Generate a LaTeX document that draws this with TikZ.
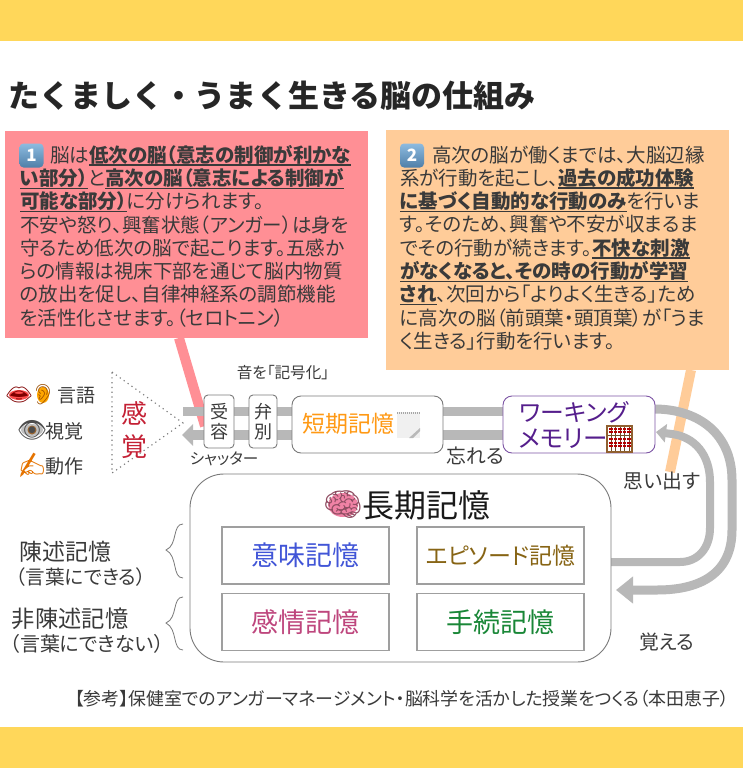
\documentclass[tikz,border=0pt]{standalone}
\usepackage{fontspec}
\usetikzlibrary{arrows.meta,shapes.geometric}
\setmainfont{Noto Sans CJK JP}[RawFeature=+palt]
\newfontfamily\fullfont{Noto Sans CJK JP}
\newfontfamily\emojifont{Noto Emoji}
\newcommand\fsz[1]{\fontsize{#1}{#1}\selectfont}
\newsavebox\ulbox
\newcommand\uln[1]{\sbox\ulbox{\bfseries #1}\rlap{\textcolor{ink}{\rule[-3.6pt]{\wd\ulbox}{1.5pt}}}\usebox\ulbox}
\definecolor{ink}{HTML}{3A3A3A}
\definecolor{barY}{HTML}{FFD75A}
\definecolor{pinkB}{HTML}{FF8F95}
\definecolor{orangeB}{HTML}{FFCC99}
\definecolor{band}{HTML}{B8B8B8}
\definecolor{edgeG}{HTML}{7A7A7A}
\definecolor{keyT}{HTML}{8DBBE0}
\definecolor{keyB}{HTML}{4F7FA8}
\definecolor{brainP}{RGB}{240,130,165}
\tikzset{
 x=1pt,y=-1pt,
 txt/.style={inner sep=0,outer sep=0,text=ink,font=\fsz{17}},
 para/.style={txt,anchor=north west,align=left,font=\fontsize{19.5}{23.3}\selectfont},
 memo/.style={draw=edgeG,line width=.9pt,rounded corners=9pt,fill=white,inner sep=0},
 tall/.style={memo,rounded corners=4pt,align=center,font=\fontsize{18}{20.5}\selectfont,text=ink},
 kind/.style={draw=gray!75,line width=1.4pt,fill=white,inner sep=0,minimum width=167pt,minimum height=57pt},
 bandline/.style={draw=band,line width=9.5pt},
 head/.style={-{Triangle[length=17pt,width=26pt]}},
 lefthead/.style={-{Triangle[length=11pt,width=21pt]}},
 smallhead/.style={-{Triangle[length=10pt,width=18pt]}},
 tie/.style={line width=10pt},
 keycap/.style={top color=keyT,bottom color=keyB,rounded corners=4pt,inner sep=0,minimum size=24pt,text=white,font=\bfseries\fsz{17}},
 brace/.style={draw=edgeG,line width=.8pt},
}
\begin{document}
\begin{tikzpicture}
\useasboundingbox (0,0) rectangle (743,768);
\fill[white] (0,0) rectangle (743,768);
\fill[barY] (0,0) rectangle (743,41);
\fill[barY] (0,727) rectangle (743,768);
\node[txt,anchor=west,font=\fullfont\bfseries\fsz{31},text=black!85] (title) at (9,96) {たくましく・うまく生きる脳の仕組み};

% callout boxes
\node[fill=pinkB,inner sep=0,minimum width=363pt,minimum height=207pt,anchor=north west] (box1) at (5,131) {};
\node[fill=orangeB,inner sep=0,minimum width=343pt,minimum height=240pt,anchor=north west] (box2) at (386,130) {};
\coordinate (p1) at (179,338); \coordinate (p2) at (205,426);
\coordinate (o1) at (691,370); \coordinate (o2) at (670,472);
\draw[pinkB,tie] (p1) -- (p2);
\draw[orangeB,tie] (o1) -- (o2);

\node[keycap] (k1) at (31.5,155.5) {1};
\node[keycap] (k2) at (412,155.5) {2};
\node[para] (t1) at (20,145) {\hspace*{30pt}脳は\uln{低次の脳（意志の制御が利かな}\\
\uln{い部分）}と\uln{高次の脳（意志による制御が}\\
\uln{可能な部分）}に分けられます。\\
不安や怒り、興奮状態（アンガー）は身を\\
守るため低次の脳で起こります。五感か\\
らの情報は視床下部を通じて脳内物質\\
の放出を促し、自律神経系の調節機能\\
を活性化させます。（セロトニン）};
\node[para] (t2) at (400,145.5) {\hspace*{32pt}高次の脳が働くまでは、大脳辺縁\\
系が行動を起こし、\uln{過去の成功体験}\\
\uln{に基づく自動的な行動のみ}を行いま\\
す。そのため、興奮や不安が収まるま\\
でその行動が続きます。\uln{不快な刺激}\\
\uln{がなくなると、その時の行動が学習}\\
\uln{され}、次回から「よりよく生きる」ため\\
に高次の脳（前頭葉・頭頂葉）が「うま\\
く生きる」行動を行います。};

% senses
\fill[red!60!pink] (19,395) ellipse [x radius=10, y radius=5];
\node[txt,font=\emojifont\fsz{22},text=red!50!black] (lips) at (19,395) {👄};
\fill[orange!70!yellow] (43,395) ellipse [x radius=6, y radius=8];
\node[txt,font=\emojifont\fsz{20},text=orange!60!black] (ear) at (43,395) {👂};
\node[txt,anchor=west,font=\fsz{19}] (s1) at (57,396) {言語};
\fill[gray!50] (32,430) ellipse [x radius=11, y radius=6];
\fill[brown!80!black] (32,430) circle [radius=4.5];
\node[txt,font=\emojifont\fsz{24},text=black!70] (eye) at (32,430) {👁};
\node[txt,anchor=west,font=\fsz{19}] (s2) at (45,431) {視覚};
\node[txt,font=\emojifont\fsz{24},text=orange!90!black] (hand) at (32,465) {✍};
\node[txt,anchor=west,font=\fsz{19}] (s3) at (45,466) {動作};
\coordinate (tr1) at (112,372); \coordinate (tr2) at (183,423); \coordinate (tr3) at (112,473);
\draw[edgeG,line width=1.1pt,dash pattern=on 1.2pt off 3.6pt] (tr1) -- (tr2) -- (tr3) -- cycle;
\node[txt,font=\fontsize{26}{33}\selectfont,text={rgb,255:red,196;green,32;blue,52},align=center] (kankaku) at (134,430) {感\\覚};

% bands
\coordinate (a1) at (183,411.5); \coordinate (a2) at (503,411.5);
\coordinate (b1) at (503,435); \coordinate (b2) at (182,435);
\draw[bandline] (a1) -- (a2);
\draw[bandline,lefthead] (b1) -- (b2);
\coordinate (wmOut) at (654,409);
\coordinate (ltmOut) at (611,562);
\coordinate (ltmIn) at (616,590);
\coordinate (wmIn) at (656,432);
\draw[bandline,line width=9pt,head] (wmOut) .. controls (700,409) and (732,435) .. (732,480) -- (732,530) .. controls (732,570) and (705,590) .. (657,590) -- (ltmIn);
\draw[bandline,line width=8pt,smallhead] (ltmOut) -- (680,562) .. controls (698,562) and (710,548) .. (710,528) -- (710,482) .. controls (710,455) and (695,437) .. (672,434) -- (wmIn);

% process nodes
\node[tall,minimum width=30pt,minimum height=53pt] (juyo) at (219,421.5) {受\\容};
\node[tall,minimum width=28pt,minimum height=53pt] (benbetsu) at (263,421.5) {弁\\別};
\node[memo,minimum width=151pt,minimum height=57pt] (short) at (367.5,424.5) {};
\node[txt,anchor=west,font=\fsz{23},text={rgb,255:red,255;green,153;blue,20}] (shortT) at (302,424) {短期記憶};
% notepad
\fill[gray!12] (397,412) rectangle (420,438);
\draw[gray!70,line width=2pt,dash pattern=on 1pt off 1pt] (397,413) -- (420,413);
\fill[gray!55] (420,428) -- (420,431) -- (413,438) -- (409,438) -- cycle;
\node[memo,draw={rgb,255:red,125;green,85;blue,165},minimum width=152pt,minimum height=57pt] (wm) at (579,424.5) {};
\node[txt,font=\fsz{23.8},text={rgb,255:red,85;green,30;blue,140}] (wm1) at (574,412) {ワーキング};
\node[txt,anchor=west,font=\fsz{24.5},text={rgb,255:red,85;green,30;blue,140}] (wm2) at (519,439) {メモリー};
% abacus
\fill[brown!75!black] (606,425) rectangle (633,453);
\fill[white] (608,427) rectangle (631,451);
\foreach \cx in {611,615.5,620,624.5,629}{
  \draw[brown!60!black,line width=.4pt] (\cx,427) -- (\cx,451);
  \foreach \cy in {428,431,438,441.5,445}{
    \fill[red!70!black] (\cx-1.8,\cy) rectangle (\cx+1.8,\cy+2.4);
  }
}
\fill[brown!60!black] (608,434.5) rectangle (631,436);
\node[txt,font=\fsz{15.6}] (kigo) at (283,373) {音を「記号化」};
\node[txt,font=\fsz{15.6}] (shutter) at (224,459) {シャッター};
\node[txt,font=\fsz{19.8}] (wasureru) at (475,456) {忘れる};
\node[txt,font=\fsz{19.8}] (omoidasu) at (662,481) {思い出す};
\node[txt,font=\fsz{19.8}] (oboeru) at (667,642) {覚える};

% long-term memory
\node[memo,draw=edgeG,rounded corners=34pt,minimum width=421pt,minimum height=188pt] (ltm) at (400.5,568) {};
\fill[brainP] (343,505) ellipse [x radius=15, y radius=12];
\node[txt,font=\emojifont\fsz{32},text=brainP!60!black] (brain) at (343,505) {🧠};
\node[txt,anchor=west,font=\fsz{32},text=black!90] (ltmT) at (362,505) {長期記憶};
\node[kind] (imi) at (305.5,555.5) {};
\node[txt,font=\fsz{27},text={rgb,255:red,65;green,85;blue,215}] at (imi.center) (imiT) {意味記憶};
\node[kind] (epi) at (500.5,555.5) {};
\node[txt,font=\fsz{23},text={rgb,255:red,135;green,100;blue,20}] at (epi.center) (epiT) {エピソード記憶};
\node[kind] (kanjo) at (305.5,622) {};
\node[txt,font=\fsz{27},text={rgb,255:red,190;green,70;blue,125}] at (kanjo.center) (kanjoT) {感情記憶};
\node[kind] (tetsu) at (500.5,622) {};
\node[txt,font=\fsz{27},text={rgb,255:red,25;green,135;blue,55}] at (tetsu.center) (tetsuT) {手続記憶};

% braces
\coordinate (br1) at (183,524); \coordinate (br2) at (166,550); \coordinate (br3) at (183,578);
\coordinate (br4) at (183,597); \coordinate (br5) at (166,623); \coordinate (br6) at (183,650);
\draw[brace] (br1) .. controls (172,524) and (178,545) .. (br2) .. controls (178,556) and (172,578) .. (br3);
\draw[brace] (br4) .. controls (172,597) and (178,618) .. (br5) .. controls (178,629) and (172,650) .. (br6);
\node[txt,anchor=west,font=\fsz{23}] (chin) at (19,552) {陳述記憶};
\node[txt,anchor=west,font=\fsz{19.6}] (chin2) at (16,577) {（言葉にできる）};
\node[txt,anchor=west,font=\fsz{23.3}] (hichin) at (12,619) {非陳述記憶};
\node[txt,anchor=west,font=\fsz{20}] (hichin2) at (10,644) {（言葉にできない）};
\node[txt,anchor=west,font=\fsz{17.9}] (ref) at (75,699) {【参考】保健室でのアンガーマネージメント・脳科学を活かした授業をつくる（本田恵子）};
\end{tikzpicture}
\end{document}
